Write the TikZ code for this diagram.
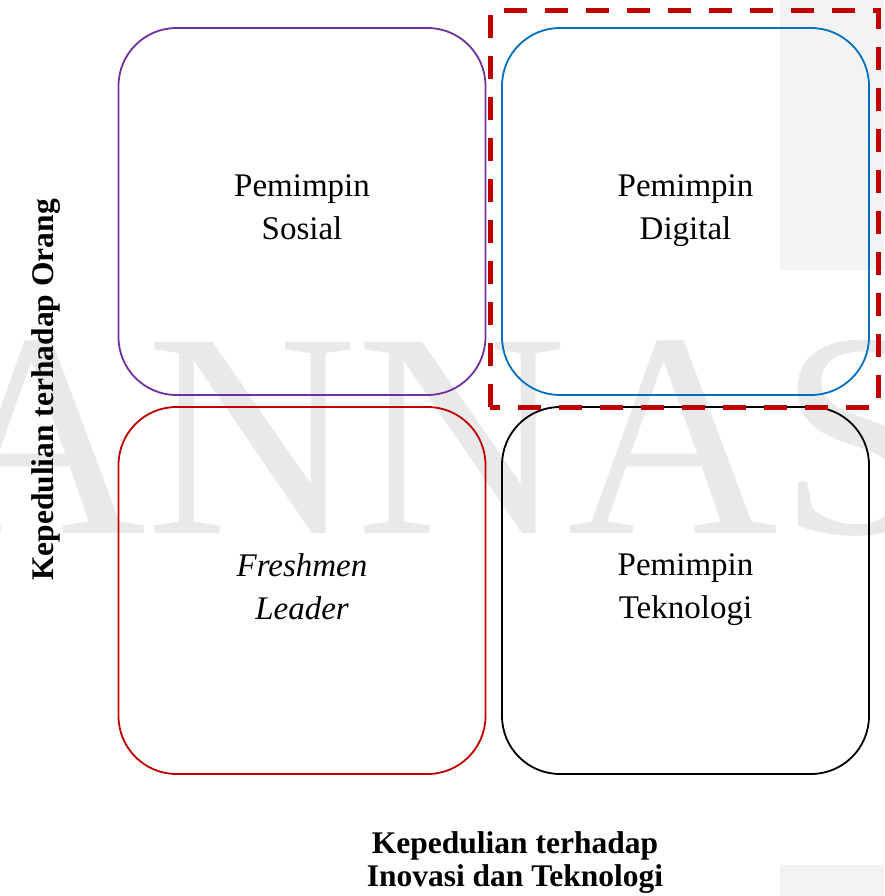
\documentclass[tikz,border=0pt]{standalone}
\usepackage{fontspec}
\setmainfont{Liberation Serif}
\definecolor{cpurple}{HTML}{7030A0}
\definecolor{cblue}{HTML}{0070C0}
\definecolor{cred}{HTML}{C00000}
\definecolor{wmgray}{HTML}{E9E9E9}
\definecolor{bggray}{HTML}{F3F3F3}
\tikzset{
  quad/.style={draw, rounded corners=58pt, line width=1.8pt, minimum width=367pt, minimum height=367pt, inner sep=0pt},
  qtext/.style={anchor=north, align=center, inner sep=0pt, font=\fontsize{33}{43}\selectfont},
  axlabel/.style={align=center, inner sep=0pt, font=\fontsize{31.5}{33}\selectfont\bfseries},
  highlight/.style={draw=cred, line width=5pt, dash pattern=on 23pt off 18pt},
  wm/.style={inner sep=0pt, text=wmgray, font=\fontsize{292}{292}\selectfont}
}
\begin{document}
\begin{tikzpicture}[x=1pt,y=-1pt]
\useasboundingbox (0,0) rectangle (884,896);
% background shading
\fill[bggray] (780,0) rectangle (884,270);
\fill[bggray] (780,865) rectangle (884,896);
% watermark
\node[wm, anchor=base west] (wmark) at (-65,533) {ANNAS};
% quadrants
\node[quad, draw=cpurple] (sosial) at (302,211.5) {};
\node[quad, draw=cblue] (digital) at (685.5,211.5) {};
\node[quad, draw=cred] (fresh) at (302,590.5) {};
\node[quad, draw=black] (tekno) at (685.5,590.5) {};
\node[qtext] (tsosial) at (302,174.5) {Pemimpin\\Sosial};
\node[qtext] (tdigital) at (685.5,174.5) {Pemimpin\\Digital};
\node[qtext] (tfresh) at (302,553.5) {\itshape Freshmen\\\itshape Leader};
\node[qtext] (ttekno) at (685.5,553.5) {Pemimpin\\Teknologi};
% highlight of digital leader
\draw[highlight] (490,407) rectangle (878,11);
% axis labels
\node[axlabel, anchor=north] (xlab) at (515,831.5) {Kepedulian terhadap\\Inovasi dan Teknologi};
\node[axlabel, anchor=north, rotate=90] (ylab) at (31,390) {Kepedulian terhadap Orang};
\end{tikzpicture}
\end{document}
